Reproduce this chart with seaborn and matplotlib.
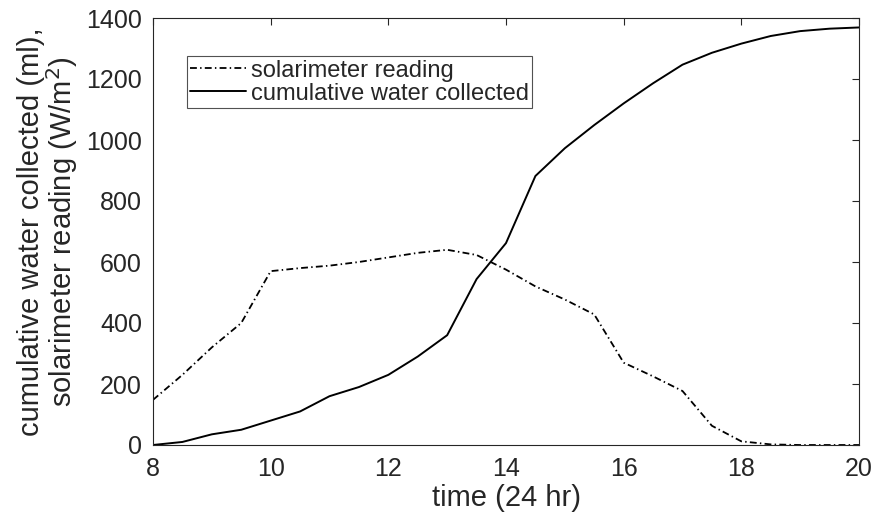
import matplotlib
matplotlib.use("Agg")
import matplotlib.pyplot as plt
import seaborn as sns
import pandas as pd

time_hr = [8, 8.5, 9, 9.5, 10, 10.5, 11, 11.5, 12, 12.5, 13, 13.5, 14, 14.5,
           15, 15.5, 16, 16.5, 17, 17.5, 18, 18.5, 19, 19.5, 20]
solarimeter = [148, 230, 320, 400, 570, 580, 588, 600, 615, 630, 640, 623, 575, 520,
               477, 428, 270, 225, 177, 63, 12, 2, 0, 0, 0]
water = [0, 10, 35, 50, 80, 110, 160, 190, 230, 290, 360, 544, 662, 882,
         973, 1049, 1120, 1186, 1247, 1286, 1316, 1341, 1357, 1365, 1369]
series_names = ["solarimeter reading", "cumulative water collected"]
x_ticks = [8, 10, 12, 14, 16, 18, 20]
y_ticks = [0, 200, 400, 600, 800, 1000, 1200, 1400]

sns.set_theme(style="white")
plt.rcParams['font.family'] = ['Liberation Sans', 'DejaVu Sans']
txt = '#262626'
plt.rcParams['text.color'] = txt
plt.rcParams['axes.labelcolor'] = txt
plt.rcParams['xtick.color'] = txt
plt.rcParams['ytick.color'] = txt

df = pd.DataFrame({"time": time_hr, "sol": solarimeter, "water": water})

fig = plt.figure(figsize=(8.75, 5.23), dpi=100)
ax = fig.add_axes([153/875, 1-445/523, 706/875, 427/523])

sns.lineplot(data=df, x="time", y="sol", ax=ax, color='black', lw=1.3,
             label=series_names[0])
ax.lines[-1].set_linestyle((0, (3.8, 1.8, 0.8, 1.8)))
sns.lineplot(data=df, x="time", y="water", ax=ax, color='black', lw=1.4,
             label=series_names[1])

ax.set_xlim(8, 20)
ax.set_ylim(0, 1400)
ax.set_xticks(x_ticks)
ax.set_yticks(y_ticks)
ax.tick_params(axis='both', which='both', direction='in', length=5, width=0.8,
               top=True, right=True, labelsize=18, color='#262626')
ax.tick_params(axis='x', pad=9)
ax.tick_params(axis='y', pad=8)
for s in ax.spines.values():
    s.set_visible(True)
    s.set_color('#262626')
    s.set_linewidth(0.8)

ax.set_xlabel("time (24 hr)", fontsize=21, labelpad=2)
ax.set_ylabel("cumulative water collected (ml),\nsolarimeter reading (W/m$^2$)",
              fontsize=21, labelpad=4, linespacing=1.0)

leg = ax.legend(loc='upper left', bbox_to_anchor=(0.048, 0.911), borderaxespad=0,
                fontsize=17, frameon=True, fancybox=False, handlelength=2.35,
                handletextpad=0.2, borderpad=0.15, labelspacing=0.05)
leg.get_frame().set_edgecolor('#262626')
leg.get_frame().set_linewidth(0.8)
for t in leg.get_texts():
    t.set_color(txt)

fig.savefig("out.png", dpi=100)
